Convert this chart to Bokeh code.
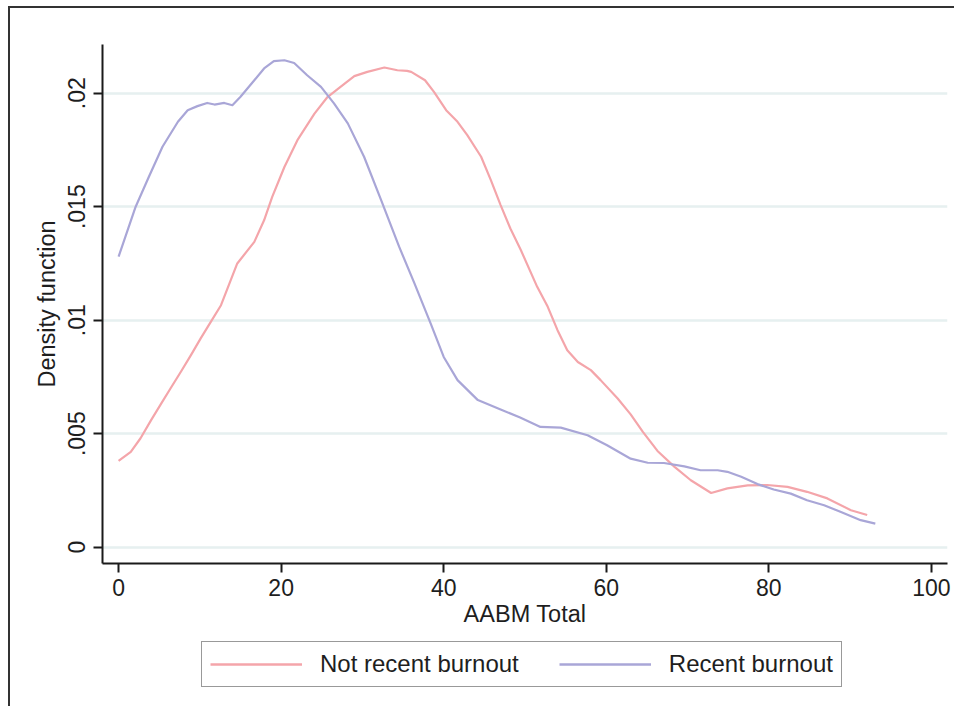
from bokeh.plotting import figure
from bokeh.layouts import column
from bokeh.models import Legend, LegendItem, FixedTicker, Range1d
from bokeh.embed import file_html
from bokeh.resources import INLINE

# ---- data ----
not_recent_x = [0, 1.5, 2.7, 4.0, 5.2, 6.4, 7.7, 8.9, 10.1, 11.4, 12.6, 14.6, 16.7, 17.9,
                18.9, 20.4, 22.0, 24.1, 25.7, 27.3, 29.0, 30.6, 32.7, 34.3, 35.5, 36.0,
                37.7, 38.8, 40.3, 41.7, 42.9, 44.6, 45.8, 47.0, 48.2, 49.5, 51.5, 52.8,
                54.0, 55.2, 56.5, 58.1, 59.3, 61.4, 63.0, 64.5, 66.3, 68.4, 70.4, 72.9,
                74.9, 77.4, 79.8, 82.3, 84.7, 87.2, 90.1, 92.1]
not_recent_y = [0.0038, 0.0042, 0.0048, 0.0056, 0.0063, 0.0070, 0.00775, 0.00846, 0.0092,
                0.00996, 0.01066, 0.0125, 0.01345, 0.0144, 0.01543, 0.01675, 0.01793,
                0.0191, 0.01983, 0.02028, 0.02075, 0.02094, 0.02113, 0.02101, 0.02098,
                0.02094, 0.02057, 0.02006, 0.01925, 0.01874, 0.01815, 0.0172, 0.01617,
                0.01507, 0.01404, 0.01308, 0.01147, 0.01059, 0.00956, 0.00868, 0.00816,
                0.0078, 0.00736, 0.00655, 0.00585, 0.00508, 0.00424, 0.00354, 0.00295,
                0.00239, 0.00259, 0.00272, 0.00274, 0.00266, 0.00244, 0.00215, 0.00163,
                0.00142]

recent_x = [0, 2.1, 3.7, 5.4, 7.3, 8.5, 9.7, 10.9, 11.8, 13.0, 14.0, 15.0, 16.7, 17.9,
            19.1, 20.4, 21.6, 23.2, 24.9, 26.5, 28.2, 30.2, 32.3, 34.5, 36.4, 38.4, 40.0,
            41.7, 44.2, 47.0, 49.4, 51.9, 54.4, 57.7, 60.1, 63.0, 65.1, 67.1, 69.6, 71.6,
            73.7, 74.9, 76.6, 78.6, 80.6, 82.7, 84.7, 86.8, 88.8, 91.3, 93.1]
recent_y = [0.0128, 0.0150, 0.0163, 0.01764, 0.01874, 0.01925, 0.01943, 0.01957, 0.0195,
            0.01957, 0.01947, 0.01984, 0.02057, 0.02109, 0.02141, 0.02145, 0.02133,
            0.02079, 0.02028, 0.01955, 0.01867, 0.0172, 0.01529, 0.01325, 0.01162,
            0.00985, 0.00838, 0.00736, 0.00648, 0.00607, 0.00571, 0.0053, 0.00527,
            0.00493, 0.00449, 0.0039, 0.00372, 0.00371, 0.00356, 0.00339, 0.00339,
            0.00332, 0.0031, 0.00278, 0.00254, 0.00236, 0.00207, 0.00185, 0.00156,
            0.00119, 0.00104]

series_names = ["Not recent burnout", "Recent burnout"]
x_ticks = [0, 20, 40, 60, 80, 100]
y_ticks = [0, 0.005, 0.01, 0.015, 0.02]
y_tick_labels = ["0", ".005", ".01", ".015", ".02"]

FONT = "Liberation Sans"
TXT = "#1e1e1e"
PINK = "#f4a5aa"
PURPLE = "#a9a6d7"

# ---------------- main chart ----------------
p = figure(width=954, height=640, output_backend="svg", toolbar_location=None,
           x_range=Range1d(-1.98, 101.98), y_range=Range1d(-0.000718, 0.022145),
           min_border_left=102, min_border_top=44, min_border_right=7,
           min_border_bottom=77)
p.outline_line_color = None
p.background_fill_color = "white"
p.border_fill_color = None

p.line(not_recent_x, not_recent_y, line_color=PINK, line_width=2.2, line_join="round")
p.line(recent_x, recent_y, line_color=PURPLE, line_width=2.2, line_join="round")

p.xgrid.visible = False
p.ygrid.ticker = FixedTicker(ticks=y_ticks)
p.ygrid.grid_line_color = "#e6f0f0"
p.ygrid.grid_line_width = 2.5

p.xaxis.ticker = FixedTicker(ticks=x_ticks)
p.yaxis.ticker = FixedTicker(ticks=y_ticks)
p.yaxis.major_label_overrides = {t: l for t, l in zip(y_ticks, y_tick_labels)}
p.yaxis.major_label_orientation = "vertical"

for ax in (p.xaxis[0], p.yaxis[0]):
    ax.axis_line_color = "#1a1a1a"
    ax.axis_line_width = 2
    ax.major_tick_line_color = "#1a1a1a"
    ax.major_tick_line_width = 2
    ax.major_tick_out = 9
    ax.major_tick_in = 0
    ax.minor_tick_line_color = None
    ax.major_label_text_font = FONT
    ax.major_label_text_font_size = "23px"
    ax.major_label_text_color = TXT
    ax.axis_label_text_font = FONT
    ax.axis_label_text_font_size = "23.5px"
    ax.axis_label_text_font_style = "normal"
    ax.axis_label_text_color = TXT

p.xaxis.axis_label = "AABM Total"
p.yaxis.axis_label = "Density function"
p.xaxis.major_label_standoff = 6
p.xaxis.axis_label_standoff = 2
p.yaxis.major_label_standoff = 8
p.yaxis.axis_label_standoff = 6

# ---------------- legend strip ----------------
# key renderers reuse the series data but sit outside this strip's ranges,
# so only their legend samples are visible
lg = figure(width=954, height=66, output_backend="svg", toolbar_location=None,
            x_axis_type=None, y_axis_type=None, min_border=0,
            x_range=Range1d(1000, 1001), y_range=Range1d(0, 1))
lg.outline_line_color = None
lg.background_fill_color = None
lg.border_fill_color = None
lg.grid.visible = False
k1 = lg.line(not_recent_x, not_recent_y, line_color=PINK, line_width=2.4)
k2 = lg.line(recent_x, recent_y, line_color=PURPLE, line_width=2.4)

legend = Legend(items=[LegendItem(label=series_names[0], renderers=[k1]),
                       LegendItem(label=series_names[1], renderers=[k2])],
                orientation="horizontal", location=(99, 19))
legend.label_text_font = FONT
legend.label_text_font_size = "24px"
legend.label_text_color = TXT
legend.glyph_width = 92
legend.label_standoff = 18
legend.spacing = 40
legend.padding = 8
legend.margin = 0
legend.border_line_color = "#333"
legend.border_line_width = 1.5
legend.background_fill_color = "white"
legend.background_fill_alpha = 1
lg.add_layout(legend, "center")

layout = column(p, lg, spacing=0)
# outer graph-region outline (only its left and top edges are visible in the reference)
layout.styles = {"background": "linear-gradient(#333, #333) 8px 6px / 2px 100% no-repeat, "
                               "linear-gradient(#333, #333) 8px 6px / 100% 2px no-repeat, #ffffff"}

open("out.html", "w").write(file_html(layout, INLINE))
